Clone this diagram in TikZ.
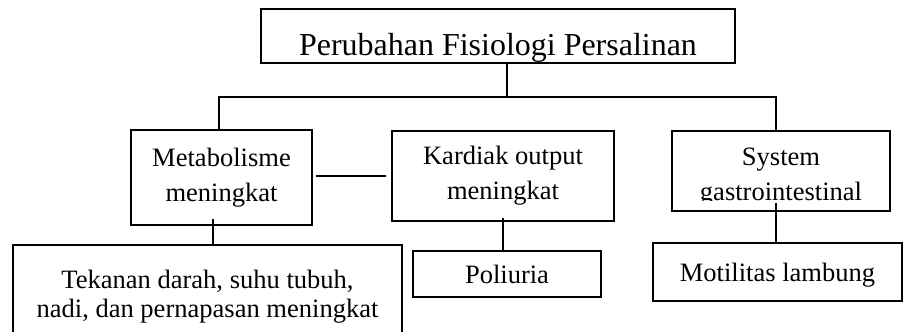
\documentclass[tikz,border=0pt]{standalone}
\usepackage{fontspec}
\setmainfont{Liberation Serif}

\begin{document}
\begin{tikzpicture}[x=0.02cm,y=-0.02cm,
        kotak/.style={draw,line width=0.9pt,inner sep=0pt,align=center,
                font=\fontsize{15.1pt}{19.9pt}\selectfont},
        garis/.style={line width=0.9pt}]
        \useasboundingbox (0,0) rectangle (915,331);
        \clip (0,0) rectangle (915,331);
        \node[kotak,minimum width=9.48cm,minimum height=1.08cm,text height=0.8cm,text depth=0pt,
                font=\fontsize{18.2pt}{22pt}\selectfont] (judul) at (498,36) {Perubahan Fisiologi Persalinan};
        \node[kotak,minimum width=3.62cm,minimum height=1.9cm] (metab) at (221.5,177.5) {Metabolisme\\meningkat};
        \node[kotak,minimum width=4.44cm,minimum height=1.8cm] (kardiak) at (503,176) {Kardiak output\\meningkat};
        \node[kotak,minimum width=4.36cm,minimum height=1.6cm] (sistem) at (781,171) {};
        \begin{scope}
        \clip (672,131) rectangle (890,200.5);
        \node[align=center,inner sep=0pt,font=\fontsize{15.1pt}{19.9pt}\selectfont] (sistemteks) at (781,177.4) {System\\gastrointestinal};
        \end{scope}
        \node[kotak,minimum width=7.78cm,minimum height=2.06cm,
                font=\fontsize{15.1pt}{16.5pt}\selectfont] (tekanan) at (207.5,296.5) {Tekanan darah, suhu tubuh,\\nadi, dan pernapasan meningkat};
        \node[kotak,minimum width=3.76cm,minimum height=0.92cm] (poliuria) at (507,274) {Poliuria};
        \node[kotak,minimum width=4.98cm,minimum height=1.16cm,text depth=0pt] (motilitas) at (777.5,272) {Motilitas lambung};
        % garis penghubung
        \coordinate (simpul) at (507,97);
        \draw[garis] (judul.south -| simpul) -- (simpul);
        \draw[garis] ([xshift=-0.05cm]metab.north) coordinate (m0) -- (m0 |- simpul)
                -- ([xshift=-0.1cm]sistem.north |- simpul) coordinate (s0) -- (s0 |- sistem.north);
        \draw[garis,shorten <=0.06cm,shorten >=0.1cm] (metab.east |- kardiak.west) -- (kardiak.west);
        \draw[garis] ([shift={(-0.17cm,0.14cm)}]metab.south) coordinate (m1) -- (m1 |- tekanan.north);
        \draw[garis] ([yshift=0.08cm]kardiak.south) coordinate (k1) -- (k1 |- poliuria.north);
        \draw[garis] ([shift={(-0.1cm,0.18cm)}]sistem.south) coordinate (s1) -- (s1 |- motilitas.north);
\end{tikzpicture}
\end{document}
